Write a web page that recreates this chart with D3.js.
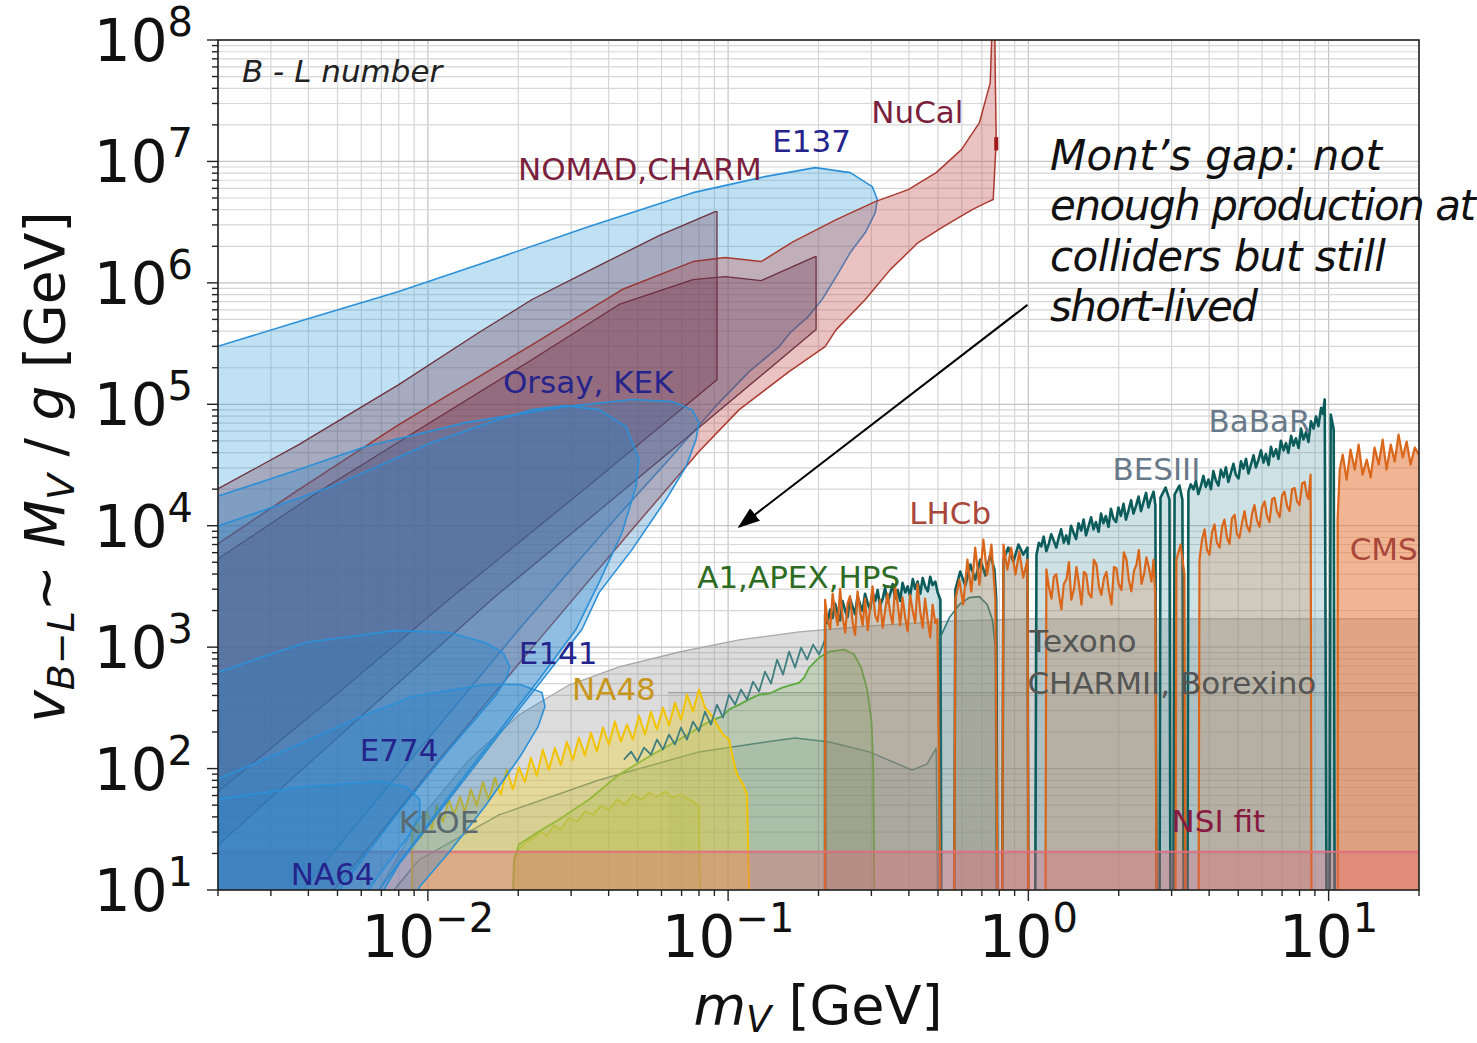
<!DOCTYPE html>
<html>
<head>
<meta charset="utf-8">
<script src="https://cdn.jsdelivr.net/npm/d3@7"></script>
<style>
  html, body { margin: 0; padding: 0; background: #fff; }
  svg { display: block; }
  text { font-family: "DejaVu Sans", sans-serif; }
</style>
</head>
<body>
<svg id="chart" width="1477" height="1043"></svg>
<script>
// Excluded regions for a B-L gauge boson.
// Every point is [log10(m_V / GeV), log10(v_{B-L} / GeV)].

const e137 = [[-2.75,5.44],[-2.703,5.475],[-2.43,5.681],[-2.097,5.928],[-1.83,6.151],[-1.473,6.455],[-1.117,6.743],[-0.877,6.875],[-0.71,6.949],[-0.593,6.908],[-0.52,6.793],[-0.503,6.686],[-0.51,6.579],[-0.543,6.414],[-0.593,6.25],[-0.64,6.052],[-0.687,5.863],[-0.733,5.722],[-0.793,5.591],[-0.83,5.475],[-0.93,5.269],[-1.03,5.014],[-1.197,4.545],[-1.363,4.092],[-1.53,3.622],[-1.697,3.145],[-1.863,2.651],[-2.03,2.156],[-2.197,1.662],[-2.363,1.168],[-2.43,0.95],[-2.75,0.95]];

const nucal = [[-2.75,3.80],[-2.703,3.845],[-2.43,4.298],[-2.097,4.833],[-1.663,5.475],[-1.353,5.945],[-1.117,6.175],[-1.01,6.208],[-0.89,6.175],[-0.783,6.34],[-0.64,6.521],[-0.51,6.669],[-0.4,6.768],[-0.307,6.908],[-0.223,7.097],[-0.163,7.319],[-0.127,7.649],[-0.121,8.1],[-0.112,8.1],[-0.11,7.673],[-0.107,7.179],[-0.117,6.686],[-0.14,6.661],[-0.187,6.603],[-0.283,6.463],[-0.367,6.332],[-0.46,6.109],[-0.543,5.863],[-0.64,5.615],[-0.677,5.475],[-0.797,5.269],[-0.963,4.956],[-1.097,4.611],[-1.297,4.034],[-1.63,3.062],[-1.963,2.074],[-2.23,1.251],[-2.313,1.0],[-2.4,0.95],[-2.75,0.95]];
const nucalTip = [[-0.107,7.2],[-0.107,7.09]];

const nomadA = [[-2.75,4.25],[-2.703,4.298],[-2.43,4.668],[-2.097,5.162],[-1.83,5.591],[-1.653,5.863],[-1.43,6.142],[-1.23,6.389],[-1.043,6.587],[-1.037,6.587],[-1.037,5.203],[-1.48,4.298],[-1.93,3.392],[-2.313,2.593],[-2.703,1.802],[-2.75,1.76]];

const nomadB = [[-2.75,3.68],[-2.703,3.721],[-2.363,4.281],[-2.03,4.792],[-1.663,5.352],[-1.363,5.822],[-1.117,6.027],[-1.01,6.052],[-0.89,6.019],[-0.71,6.216],[-0.707,6.216],[-0.707,5.615],[-1.097,4.808],[-1.43,4.125],[-1.787,3.392],[-2.097,2.708],[-2.43,1.967],[-2.703,1.358],[-2.75,1.3]];

const orsay = [[-2.75,4.2],[-2.703,4.24],[-2.43,4.462],[-2.207,4.652],[-1.873,4.849],[-1.54,4.981],[-1.32,5.039],[-1.187,5.022],[-1.12,4.956],[-1.097,4.849],[-1.107,4.709],[-1.14,4.487],[-1.207,4.215],[-1.32,3.803],[-1.43,3.449],[-1.487,3.145],[-1.597,2.799],[-1.763,2.28],[-1.93,1.745],[-2.097,1.209],[-2.147,1.0],[-2.2,0.95],[-2.75,0.95]];

const kek = [[-2.75,3.95],[-2.703,3.993],[-2.32,4.322],[-1.987,4.685],[-1.763,4.874],[-1.653,4.956],[-1.54,4.989],[-1.43,4.956],[-1.34,4.816],[-1.297,4.545],[-1.307,4.322],[-1.353,3.944],[-1.43,3.532],[-1.507,3.145],[-1.63,2.733],[-1.797,2.198],[-1.963,1.662],[-2.113,1.168],[-2.163,1.0],[-2.2,0.95],[-2.75,0.95]];

const e141 = [[-2.75,2.75],[-2.703,2.791],[-2.407,3.038],[-2.11,3.136],[-1.93,3.12],[-1.81,3.038],[-1.75,2.955],[-1.727,2.84],[-1.74,2.733],[-1.777,2.593],[-1.93,2.156],[-2.11,1.605],[-2.287,1.028],[-2.3,0.95],[-2.75,0.95]];

const e774 = [[-2.75,1.87],[-2.703,1.909],[-2.43,2.198],[-2.23,2.42],[-2.05,2.593],[-1.81,2.692],[-1.693,2.692],[-1.62,2.626],[-1.61,2.511],[-1.633,2.346],[-1.693,2.099],[-1.81,1.687],[-1.93,1.308],[-2.027,1.028],[-2.04,0.95],[-2.75,0.95]];

const na64 = [[-2.75,1.72],[-2.703,1.745],[-2.407,1.852],[-2.167,1.893],[-2.073,1.852],[-2.027,1.745],[-2.027,1.605],[-2.073,1.415],[-2.167,1.111],[-2.197,1.0],[-2.2,0.95],[-2.75,0.95]];

const texono = [[-2.163,0.95],[-2.163,1.0],[-2.03,1.577],[-1.863,2.071],[-1.697,2.441],[-1.53,2.688],[-1.363,2.837],[-1.163,2.96],[-0.963,3.059],[-0.763,3.125],[-0.53,3.174],[-0.263,3.215],[0.003,3.232],[1.35,3.232],[1.35,0.95]];

const charmii = [[-1.2,2.626],[1.35,2.626]];

const kloe = [[-2.113,0.95],[-2.113,1.0],[-2.03,1.247],[-1.763,1.618],[-1.43,1.906],[-1.097,2.137],[-0.897,2.211],[-0.777,2.252],[-0.663,2.219],[-0.53,2.137],[-0.387,1.988],[-0.337,2.038],[-0.307,2.169],[-0.303,0.95]];

const a1 = [[-1.717,0.95],[-1.713,1.251],[-1.697,1.374],[-1.647,1.456],[-1.563,1.58],[-1.463,1.745],[-1.363,1.951],[-1.263,2.099],[-1.163,2.239],[-1.063,2.387],[-1.02,2.43],[-0.995,2.49],[-0.963,2.527],[-0.93,2.57],[-0.897,2.609],[-0.86,2.62],[-0.82,2.667],[-0.763,2.708],[-0.747,2.749],[-0.73,2.832],[-0.697,2.914],[-0.663,2.963],[-0.613,2.98],[-0.58,2.939],[-0.557,2.832],[-0.537,2.651],[-0.523,2.404],[-0.517,2.074],[-0.513,0.95]];

const apex = [[-1.717,0.95],[-1.71,1.251],[-1.697,1.333],[-1.67,1.399],[-1.647,1.432],[-1.623,1.481],[-1.603,1.448],[-1.58,1.531],[-1.557,1.498],[-1.53,1.596],[-1.503,1.563],[-1.477,1.646],[-1.45,1.621],[-1.423,1.695],[-1.397,1.662],[-1.37,1.745],[-1.343,1.704],[-1.317,1.786],[-1.29,1.745],[-1.263,1.802],[-1.237,1.769],[-1.21,1.811],[-1.183,1.761],[-1.157,1.786],[-1.13,1.745],[-1.11,1.72],[-1.097,1.687],[-1.093,0.95]];

const na48 = [[-2.053,0.95],[-2.053,1.456],[-2.037,1.58],[-2.023,1.43],[-2.003,1.645],[-1.987,1.50],[-1.97,1.70],[-1.95,1.56],[-1.93,1.745],[-1.913,1.62],[-1.893,1.77],[-1.877,1.645],[-1.857,1.83],[-1.837,1.695],[-1.817,1.89],[-1.797,1.745],[-1.777,1.925],[-1.757,1.786],[-1.737,1.99],[-1.717,1.83],[-1.697,2.01],[-1.677,1.89],[-1.657,2.09],[-1.637,1.94],[-1.617,2.156],[-1.597,1.99],[-1.577,2.17],[-1.557,2.03],[-1.537,2.22],[-1.517,2.07],[-1.497,2.255],[-1.477,2.107],[-1.457,2.296],[-1.437,2.14],[-1.417,2.338],[-1.397,2.198],[-1.377,2.387],[-1.357,2.222],[-1.337,2.362],[-1.317,2.239],[-1.297,2.436],[-1.277,2.28],[-1.257,2.469],[-1.237,2.321],[-1.217,2.502],[-1.197,2.354],[-1.177,2.543],[-1.157,2.404],[-1.137,2.609],[-1.117,2.469],[-1.097,2.651],[-1.077,2.502],[-1.057,2.445],[-1.037,2.362],[-1.017,2.28],[-0.997,2.239],[-0.983,2.074],[-0.97,1.951],[-0.95,1.868],[-0.937,1.786],[-0.93,0.95]];

// low-mass BaBaR reach (outline only)
const babarLow = [[-1.347,2.074],[-1.323,2.14],[-1.303,2.058],[-1.28,2.173],[-1.257,2.115],[-1.237,2.239],[-1.217,2.156],[-1.197,2.28],[-1.177,2.198],[-1.157,2.338],[-1.137,2.239],[-1.117,2.387],[-1.097,2.305],[-1.077,2.469],[-1.057,2.362],[-1.037,2.527],[-1.017,2.42],[-0.997,2.609],[-0.977,2.527],[-0.957,2.651],[-0.937,2.568],[-0.917,2.716],[-0.897,2.634],[-0.877,2.799],[-0.857,2.70],[-0.837,2.897],[-0.817,2.774],[-0.797,2.963],[-0.777,2.832],[-0.757,2.996],[-0.737,2.897],[-0.717,3.021],[-0.697,2.939],[-0.677,3.062]];

const babar = [[-0.677,0.95],
  [-0.677,3.27],[-0.669,3.20],[-0.660,3.31],[-0.652,3.24],[-0.644,3.36],[-0.635,3.28],[-0.627,3.22],[-0.619,3.38],[-0.610,3.30],[-0.602,3.25],[-0.594,3.40],[-0.585,3.33],[-0.577,3.27],[-0.569,3.42],[-0.560,3.35],[-0.552,3.30],[-0.544,3.44],[-0.535,3.36],[-0.527,3.31],[-0.519,3.45],[-0.510,3.38],[-0.502,3.47],[-0.494,3.34],[-0.485,3.40],[-0.477,3.49],[-0.469,3.37],[-0.460,3.44],[-0.452,3.52],[-0.444,3.40],[-0.435,3.47],[-0.427,3.38],[-0.419,3.53],[-0.410,3.45],[-0.402,3.50],[-0.394,3.42],[-0.385,3.56],[-0.377,3.48],[-0.369,3.54],[-0.360,3.44],[-0.352,3.57],[-0.344,3.50],[-0.335,3.46],[-0.327,3.58],[-0.319,3.51],[-0.310,3.54],[-0.302,3.45],[-0.293,3.39],[-0.29,0.95],[-0.247,0.95],
  [-0.243,3.474],[-0.227,3.622],[-0.21,3.507],[-0.193,3.68],[-0.177,3.556],[-0.16,3.721],[-0.143,3.589],[-0.127,3.762],[-0.113,3.639],[-0.107,3.392],[-0.103,0.95],[-0.087,0.95],
  [-0.083,3.721],[-0.067,3.82],[-0.05,3.705],[-0.033,3.845],[-0.017,3.762],[-0.003,3.82],[0.0,0.95],[0.023,0.95],
  [0.027,3.76],[0.035,3.86],[0.043,3.83],[0.051,3.91],[0.060,3.79],[0.068,3.85],[0.076,3.93],[0.084,3.88],[0.093,3.82],[0.101,3.90],[0.109,3.97],[0.118,3.86],[0.126,3.92],[0.134,3.85],[0.142,4.00],[0.151,3.94],[0.159,3.89],[0.167,4.02],[0.176,3.96],[0.184,4.05],[0.192,3.92],[0.200,3.99],[0.209,4.07],[0.217,3.97],[0.225,4.03],[0.234,3.95],[0.242,4.10],[0.250,4.02],[0.258,4.08],[0.267,3.99],[0.275,4.14],[0.283,4.06],[0.292,4.03],[0.300,4.15],[0.308,4.08],[0.317,4.18],[0.325,4.05],[0.333,4.12],[0.342,4.21],[0.350,4.10],[0.358,4.16],[0.367,4.24],[0.375,4.12],[0.383,4.19],[0.392,4.27],[0.400,4.15],[0.408,4.22],[0.417,4.28],[0.423,4.17],[0.427,0.95],[0.437,0.95],
  [0.44,4.232],[0.457,4.314],[0.47,4.215],[0.473,0.95],[0.483,0.95],[0.487,4.256],[0.503,4.331],[0.513,4.215],[0.517,0.95],[0.53,0.95],
  [0.533,4.28],[0.541,4.34],[0.550,4.30],[0.558,4.37],[0.566,4.26],[0.575,4.33],[0.583,4.41],[0.591,4.32],[0.600,4.38],[0.608,4.30],[0.616,4.45],[0.625,4.37],[0.633,4.33],[0.641,4.46],[0.650,4.40],[0.658,4.48],[0.666,4.36],[0.675,4.44],[0.683,4.51],[0.691,4.42],[0.700,4.39],[0.708,4.53],[0.716,4.47],[0.725,4.55],[0.733,4.43],[0.741,4.50],[0.750,4.58],[0.758,4.48],[0.766,4.54],[0.775,4.62],[0.783,4.52],[0.791,4.59],[0.800,4.50],[0.808,4.65],[0.816,4.57],[0.825,4.63],[0.833,4.55],[0.841,4.70],[0.850,4.62],[0.858,4.68],[0.866,4.60],[0.875,4.74],[0.883,4.66],[0.891,4.72],[0.900,4.64],[0.908,4.80],[0.916,4.71],[0.925,4.77],[0.933,4.69],[0.941,4.86],[0.950,4.80],[0.958,4.90],[0.966,4.82],[0.975,4.97],[0.981,4.92],[0.987,5.04],[0.993,0.95],[1.003,0.95],[1.007,4.915],[1.017,4.792],[1.02,0.95]];

const besHump = [[-0.297,0.95],[-0.297,3.062],[-0.263,3.243],[-0.23,3.351],[-0.197,3.408],[-0.163,3.416],[-0.137,3.351],[-0.12,3.227],[-0.11,3.005],[-0.107,0.95]];

const lhcb = [[-0.677,0.95],[-0.677,3.39],[-0.669,3.22],[-0.660,3.15],[-0.652,3.44],[-0.644,3.30],[-0.635,3.18],[-0.627,3.48],[-0.619,3.25],[-0.610,3.12],[-0.602,3.36],[-0.594,3.42],[-0.585,3.20],[-0.577,3.10],[-0.569,3.46],[-0.560,3.29],[-0.552,3.18],[-0.544,3.40],[-0.535,3.14],[-0.527,3.33],[-0.519,3.50],[-0.510,3.26],[-0.502,3.21],[-0.494,3.39],[-0.485,3.16],[-0.477,3.30],[-0.469,3.44],[-0.460,3.28],[-0.452,3.19],[-0.444,3.51],[-0.435,3.35],[-0.427,3.18],[-0.419,3.41],[-0.410,3.24],[-0.402,3.13],[-0.394,3.43],[-0.385,3.30],[-0.377,3.20],[-0.369,3.52],[-0.360,3.29],[-0.352,3.16],[-0.344,3.40],[-0.335,3.22],[-0.327,3.08],[-0.319,3.35],[-0.310,3.20],[-0.303,3.23],[-0.293,0.95],[-0.247,0.95],
  [-0.243,3.392],[-0.23,3.556],[-0.217,3.351],[-0.203,3.721],[-0.19,3.458],[-0.177,3.82],[-0.163,3.515],[-0.15,3.886],[-0.137,3.598],[-0.123,3.845],[-0.11,3.392],[-0.103,0.95],[-0.087,0.95],
  [-0.083,3.845],[-0.07,3.639],[-0.057,3.82],[-0.043,3.598],[-0.03,3.787],[-0.017,3.573],[-0.003,3.721],[0.0,0.95],[0.057,0.95],
  [0.060,3.64],[0.068,3.50],[0.077,3.40],[0.085,3.58],[0.093,3.60],[0.101,3.45],[0.110,3.31],[0.118,3.52],[0.127,3.56],[0.135,3.70],[0.143,3.39],[0.152,3.48],[0.160,3.66],[0.168,3.53],[0.177,3.35],[0.185,3.62],[0.193,3.60],[0.201,3.44],[0.210,3.41],[0.218,3.72],[0.227,3.68],[0.235,3.50],[0.243,3.43],[0.252,3.57],[0.260,3.62],[0.268,3.47],[0.277,3.35],[0.285,3.66],[0.293,3.65],[0.301,3.52],[0.310,3.47],[0.318,3.78],[0.327,3.72],[0.335,3.55],[0.343,3.46],[0.352,3.63],[0.360,3.68],[0.368,3.80],[0.377,3.52],[0.385,3.60],[0.393,3.74],[0.401,3.66],[0.410,3.54],[0.417,3.72],[0.423,3.39],[0.427,0.95],[0.49,0.95],
  [0.493,3.721],[0.507,3.845],[0.52,3.598],[0.523,0.95],[0.567,0.95],
  [0.570,3.72],[0.578,3.88],[0.587,3.97],[0.595,3.80],[0.603,3.76],[0.612,3.95],[0.620,4.01],[0.628,3.86],[0.637,3.82],[0.645,3.99],[0.653,4.05],[0.662,3.90],[0.670,3.85],[0.678,4.06],[0.687,4.09],[0.695,3.93],[0.703,3.90],[0.712,4.03],[0.720,4.12],[0.728,4.00],[0.737,3.95],[0.745,4.10],[0.753,4.17],[0.762,4.04],[0.770,3.99],[0.778,4.15],[0.787,4.20],[0.795,4.08],[0.803,4.03],[0.812,4.22],[0.820,4.23],[0.828,4.12],[0.837,4.07],[0.845,4.25],[0.853,4.28],[0.862,4.16],[0.870,4.12],[0.878,4.30],[0.887,4.31],[0.895,4.20],[0.903,4.17],[0.912,4.35],[0.920,4.36],[0.928,4.25],[0.933,4.22],[0.940,4.42],[0.943,0.95]];

const cms = [[1.03,0.95],[1.03,4.051],[1.037,4.462],[1.047,4.586],[1.06,4.38],[1.073,4.627],[1.087,4.462],[1.1,4.668],[1.113,4.421],[1.127,4.545],[1.14,4.396],[1.153,4.644],[1.167,4.503],[1.18,4.709],[1.193,4.462],[1.207,4.668],[1.22,4.528],[1.233,4.75],[1.247,4.561],[1.26,4.693],[1.273,4.503],[1.287,4.644],[1.3,4.586],[1.35,4.6],[1.35,0.95]];

const nsi = [[-2.8,0.95],[-2.8,1.316],[1.35,1.316],[1.35,0.95]];

// Axis tick exponents
const xTickExps = [-2, -1, 0, 1];
const yTickExps = [1, 2, 3, 4, 5, 6, 7, 8];

// Region labels: text, anchor [log10 m, log10 v] at the text baseline start
const labels = [
  {t: "NuCal",            at: [-0.523, 7.32],  c: "#7a1f3d"},
  {t: "E137",             at: [-0.853, 7.081], c: "#24248c"},
  {t: "NOMAD,CHARM",      at: [-1.70, 6.851],  c: "#7a1f3d"},
  {t: "Orsay, KEK",       at: [-1.75, 5.096],  c: "#24248c"},
  {t: "E141",             at: [-1.697, 2.865], c: "#24248c"},
  {t: "NA48",             at: [-1.52, 2.568],  c: "#c8961c"},
  {t: "E774",             at: [-2.227, 2.066], c: "#24248c"},
  {t: "KLOE",             at: [-2.097, 1.473], c: "#5a6a70"},
  {t: "NA64",             at: [-2.457, 1.045], c: "#24248c"},
  {t: "A1,APEX,HPS",      at: [-1.103, 3.491], c: "#2e6b22"},
  {t: "LHCb",             at: [-0.397, 4.018], c: "#a8473a"},
  {t: "BESIII",           at: [0.28, 4.38],    c: "#687a8a"},
  {t: "BaBaR",            at: [0.60, 4.775],   c: "#687a8a"},
  {t: "CMS",              at: [1.07, 3.721],   c: "#a8473a"},
  {t: "Texono",           at: [0.003, 2.963],  c: "#555555"},
  {t: "CHARMII, Borexino",at: [-0.003, 2.618], c: "#555555"},
  {t: "NSI fit",          at: [0.477, 1.481],  c: "#861a40"}
];

const noteLines = ["Mont\u2019s gap: not", "enough production at", "colliders but still", "short-lived"];
const noteWidths = [332, 426, 336, 208];
const arrowFrom = [-0.003, 5.819];
const arrowTo = [-0.963, 3.992];

// ---------------------------------------------------------------
const plot = {left: 218, right: 1419, top: 40, bottom: 890};
const svg = d3.select("#chart");
const x = d3.scaleLog().domain([0.002, 20]).range([plot.left, plot.right]);
const y = d3.scaleLog().domain([10, 1e8]).range([plot.bottom, plot.top]);
const px = d => x(Math.pow(10, d[0]));
const py = d => y(Math.pow(10, d[1]));
const path = d3.line().x(px).y(py);

svg.append("defs").append("clipPath").attr("id", "clip")
  .append("rect").attr("x", plot.left).attr("y", plot.top)
  .attr("width", plot.right - plot.left).attr("height", plot.bottom - plot.top);

// grid
const grid = svg.append("g");
const xt = x.ticks(), yt = y.ticks();
const isMajor = v => Math.abs(Math.log10(v) - Math.round(Math.log10(v))) < 1e-9;
xt.forEach(v => grid.append("line").attr("x1", x(v)).attr("x2", x(v))
  .attr("y1", plot.top).attr("y2", plot.bottom)
  .attr("stroke", isMajor(v) ? "#c4c4c4" : "#d6d6d6").attr("stroke-width", 1.2));
yt.forEach(v => grid.append("line").attr("y1", y(v)).attr("y2", y(v))
  .attr("x1", plot.left).attr("x2", plot.right)
  .attr("stroke", isMajor(v) ? "#c4c4c4" : "#d6d6d6").attr("stroke-width", 1.2));

const g = svg.append("g").attr("clip-path", "url(#clip)");
function region(data, fill, stroke, sw) {
  g.append("path").attr("d", path(data) + "Z").attr("fill", fill)
    .attr("stroke", stroke || "none").attr("stroke-width", sw || 1.5)
    .attr("stroke-linejoin", "round");
}
function outline(data, stroke, sw) {
  g.append("path").attr("d", path(data)).attr("fill", "none")
    .attr("stroke", stroke).attr("stroke-width", sw).attr("stroke-linejoin", "round");
}

// low-mass / collider side
region(texono, "rgba(140,140,140,0.30)", "#a8a8a8", 1.3);
region([[charmii[0][0], 0.95], ...charmii, [charmii[1][0], 0.95]], "rgba(140,140,140,0.12)", null);
outline(charmii, "#a0a0a0", 1.2);
region(kloe, "rgba(70,115,120,0.14)", "#567f84", 1.4);
region(apex, "rgba(160,180,50,0.22)", "#a9b93e", 1.6);
region(a1, "rgba(100,170,70,0.22)", "#5caa3e", 1.8);
region(na48, "rgba(245,210,50,0.38)", "#f2c300", 2);
outline(babarLow, "#3f7f80", 1.8);
region(babar, "rgba(80,150,160,0.28)", "#0d5c5c", 2.6);
region(besHump, "rgba(80,150,160,0.22)", "#2d7a7a", 1.6);
region(lhcb, "rgba(215,120,50,0.22)", "#d9661a", 2.2);
region(cms, "rgba(232,120,60,0.55)", "#d9661a", 2.2);
region(nsi, "rgba(225,100,115,0.35)", "#e26d80", 1.6);

// beam dump side
region(e137, "rgba(46,154,214,0.30)", "#2a90d8", 1.6);
region(nucal, "rgba(192,80,77,0.35)", "#aa3a30", 1.5);
outline(nucalTip, "#a01818", 4);
region(nomadA, "rgba(107,45,74,0.30)", "#6d3040", 1.3);
region(nomadB, "rgba(107,45,74,0.30)", "#6d3040", 1.3);
region(orsay, "rgba(40,130,200,0.30)", "#2a90d8", 1.6);
region(kek, "rgba(40,130,200,0.30)", "#2a90d8", 1.6);
region(e141, "rgba(40,130,200,0.30)", "#2a90d8", 1.6);
region(e774, "rgba(40,130,200,0.30)", "#2a90d8", 1.6);
region(na64, "rgba(40,130,200,0.30)", "#2a90d8", 1.6);

// frame and ticks
svg.append("rect").attr("x", plot.left).attr("y", plot.top)
  .attr("width", plot.right - plot.left).attr("height", plot.bottom - plot.top)
  .attr("fill", "none").attr("stroke", "#222").attr("stroke-width", 1.6);
const ticks = svg.append("g").attr("stroke", "#222").attr("stroke-width", 1.4);
xt.forEach(v => ticks.append("line").attr("x1", x(v)).attr("x2", x(v))
  .attr("y1", plot.bottom).attr("y2", plot.bottom + (isMajor(v) ? 11 : 6)));
yt.forEach(v => ticks.append("line").attr("y1", y(v)).attr("y2", y(v))
  .attr("x1", plot.left).attr("x2", plot.left - (isMajor(v) ? 11 : 6)));

const fmtExp = e => (e < 0 ? "\u2212" : "") + Math.abs(e);
xTickExps.forEach(e => {
  const t = svg.append("text").attr("x", x(Math.pow(10, e))).attr("y", 957)
    .attr("text-anchor", "middle").attr("fill", "#111").attr("font-size", 58);
  t.append("tspan").text("10");
  t.append("tspan").attr("font-size", 40).attr("dy", -25).text(fmtExp(e));
});
yTickExps.forEach(e => {
  const t = svg.append("text").attr("x", 193).attr("y", y(Math.pow(10, e)) + 21)
    .attr("text-anchor", "end").attr("fill", "#111").attr("font-size", 58);
  t.append("tspan").text("10");
  t.append("tspan").attr("font-size", 40).attr("dy", -25).text(fmtExp(e));
});

// axis titles
const xl = svg.append("text").attr("x", 818).attr("y", 1024).attr("text-anchor", "middle")
  .attr("font-size", 54).attr("fill", "#111");
xl.append("tspan").attr("font-style", "italic").text("m");
xl.append("tspan").attr("font-style", "italic").attr("font-size", 37).attr("dy", 8).text("V");
xl.append("tspan").attr("dy", -8).text(" [GeV]");

const yl = svg.append("text").attr("transform", "translate(64,467) rotate(-90)")
  .attr("text-anchor", "middle").attr("font-size", 55).attr("fill", "#111");
yl.append("tspan").attr("font-style", "italic").text("v");
yl.append("tspan").attr("font-style", "italic").attr("font-size", 38).attr("dy", 10).text("B\u2212L");
yl.append("tspan").attr("dy", -10).text("\u223C ");
yl.append("tspan").attr("font-style", "italic").text("M");
yl.append("tspan").attr("font-style", "italic").attr("font-size", 38).attr("dy", 10).text("V");
yl.append("tspan").attr("dy", -10).text(" / ");
yl.append("tspan").attr("font-style", "italic").text("g");
yl.append("tspan").text(" [GeV]");

// panel tag
svg.append("text").attr("x", 242).attr("y", 82).attr("font-size", 31)
  .attr("font-style", "italic").attr("fill", "#222").text("B - L number");

// region labels
labels.forEach(l => svg.append("text").attr("x", px(l.at)).attr("y", py(l.at))
  .attr("font-size", 31).attr("fill", l.c).text(l.t));

// annotation
svg.append("defs").append("marker").attr("id", "head")
  .attr("markerUnits", "userSpaceOnUse").attr("viewBox", "0 0 22 16")
  .attr("refX", 20).attr("refY", 8).attr("markerWidth", 22).attr("markerHeight", 16)
  .attr("orient", "auto")
  .append("path").attr("d", "M0,0 L22,8 L0,16 Z").attr("fill", "#000");
svg.append("line").attr("x1", px(arrowFrom)).attr("y1", py(arrowFrom))
  .attr("x2", px(arrowTo)).attr("y2", py(arrowTo))
  .attr("stroke", "#000").attr("stroke-width", 2).attr("marker-end", "url(#head)");

noteLines.forEach((s, i) => svg.append("text")
  .attr("x", 1050).attr("y", 170 + i * 50.3)
  .attr("font-family", "Lato, 'Open Sans', sans-serif").attr("font-style", "italic")
  .attr("font-size", 42).attr("fill", "#111")
  .attr("textLength", noteWidths[i]).attr("lengthAdjust", "spacing").text(s));
</script>
</body>
</html>
